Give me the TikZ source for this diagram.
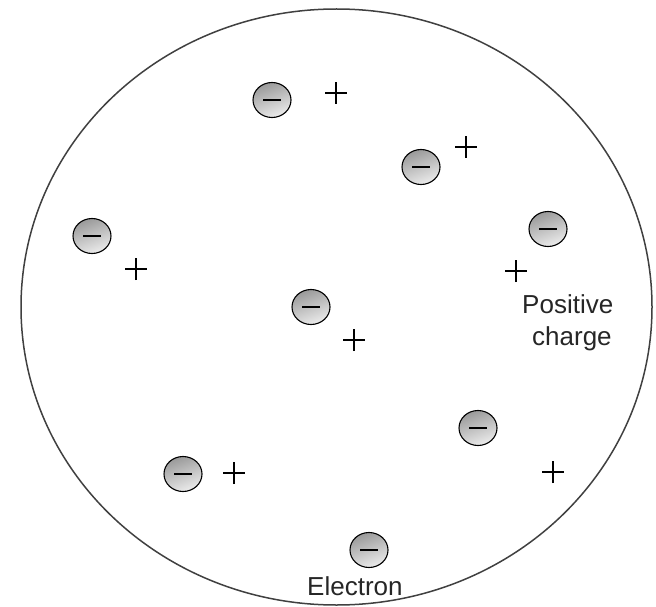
\documentclass[tikz,border=0pt]{standalone}
\usepackage{fontspec}
\setmainfont{Liberation Sans}
\usetikzlibrary{shapes.geometric}
\tikzset{
  electron/.style={ellipse, minimum width=38pt, minimum height=35pt, inner sep=0pt,
    draw=black, line width=1.1pt, top color=gray!80, bottom color=gray!15, shading angle=20,
    path picture={\draw[line width=1.4pt] ([xshift=-9pt]path picture bounding box.center) -- ([xshift=9pt]path picture bounding box.center);}},
  pluscharge/.style={inner sep=0pt, minimum size=22pt,
    path picture={\draw[line width=1.4pt] ([xshift=-11pt]path picture bounding box.center) -- ([xshift=11pt]path picture bounding box.center)
      ([yshift=-11pt]path picture bounding box.center) -- ([yshift=11pt]path picture bounding box.center);}},
  lbl/.style={anchor=base west, inner sep=0pt, font=\fontsize{26}{30}\selectfont, text=black!85}
}
\begin{document}
\begin{tikzpicture}[x=1pt,y=-1pt]
\useasboundingbox (0,0) rectangle (656,607);
\node[ellipse, draw=black!75, line width=1.5pt, minimum width=631pt, minimum height=596pt, inner sep=0pt] (atom) at (336.5,307) {};
% electrons
\node[electron] (e1) at (272,100) {};
\node[electron] (e2) at (421,167) {};
\node[electron] (e3) at (92,236) {};
\node[electron] (e4) at (548,229) {};
\node[electron] (e5) at (311,307) {};
\node[electron] (e6) at (478,428) {};
\node[electron] (e7) at (183,474) {};
\node[electron] (e8) at (369,550) {};
% positive charges
\node[pluscharge] (p1) at (336,93) {};
\node[pluscharge] (p2) at (466,147) {};
\node[pluscharge] (p3) at (136,269) {};
\node[pluscharge] (p4) at (516,271) {};
\node[pluscharge] (p5) at (354,340) {};
\node[pluscharge] (p6) at (553,472) {};
\node[pluscharge] (p7) at (234,473) {};
% labels
\node[lbl] (lpos) at (522,313) {Positive};
\node[lbl] (lchg) at (532,345) {charge};
\node[lbl] (lel) at (307,595) {Electron};
\end{tikzpicture}
\end{document}
